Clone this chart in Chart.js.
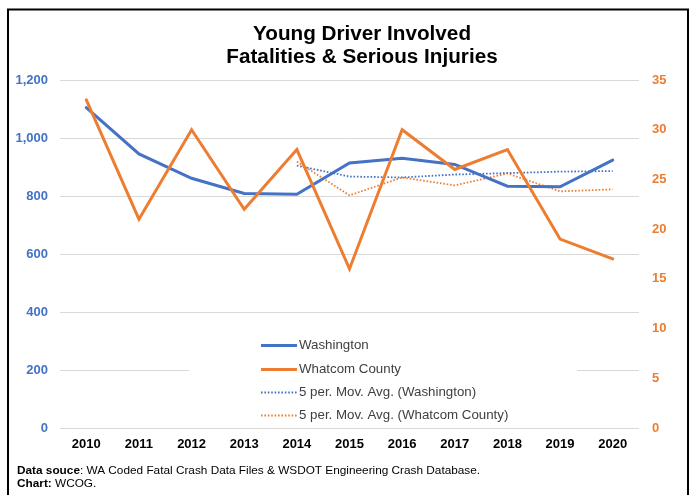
<!DOCTYPE html>
<html>
<head>
<meta charset="utf-8">
<title>Young Driver Involved Fatalities & Serious Injuries</title>
<script src="https://cdn.jsdelivr.net/npm/chart.js@4/dist/chart.umd.min.js"></script>
<style>
  html, body { margin: 0; padding: 0; background: #fff; }
  canvas { display: block; }
</style>
</head>
<body>
<canvas id="chart" width="692" height="495"></canvas>
<script>
// Values
const years = ['2010','2011','2012','2013','2014','2015','2016','2017','2018','2019','2020'];
const washington = [1105, 945, 861, 809, 806, 914, 930, 909, 834, 832, 924];
const whatcom = [33, 21, 30, 22, 28, 16, 30, 26, 28, 19, 17];
// 5 period moving average trendlines, as drawn in the picture
const washingtonAvg = [null, null, null, null, 905, 867, 864, 874, 879, 884, 886];
const whatcomAvg = [null, null, null, null, 26.8, 23.4, 25.2, 24.4, 25.6, 23.8, 24.0];

const titleLines = ['Young Driver Involved', 'Fatalities & Serious Injuries'];
const legendLabels = ['Washington', 'Whatcom County', '5 per. Mov. Avg. (Washington)', '5 per. Mov. Avg. (Whatcom County)'];

const BLUE = '#4472C4';
const ORANGE = '#ED7D31';
const FONT = '"Liberation Sans", Arial, sans-serif';
const DOTS = [1.6, 1.8];

// frame, title, legend box and source note
const extras = {
  id: 'extras',
  afterDraw(chart) {
    const ctx = chart.ctx;
    ctx.save();

    ctx.strokeStyle = '#000';
    ctx.lineWidth = 2;
    ctx.strokeRect(8, 9.5, 680, 600);

    ctx.fillStyle = '#000';
    ctx.font = 'bold 20.7px ' + FONT;
    ctx.textAlign = 'center';
    ctx.textBaseline = 'alphabetic';
    ctx.fillText(titleLines[0], 362, 40);
    ctx.fillText(titleLines[1], 362, 63);

    // legend sits inside the plot, white box hides the gridlines
    ctx.fillStyle = '#fff';
    ctx.fillRect(189, 330, 388, 95);
    const rows = [345.5, 369.5, 392.5, 415.5];
    const styles = [
      { color: BLUE, width: 3, dash: [] },
      { color: ORANGE, width: 3, dash: [] },
      { color: BLUE, width: 1.8, dash: DOTS },
      { color: ORANGE, width: 1.8, dash: DOTS }
    ];
    ctx.textAlign = 'left';
    ctx.textBaseline = 'middle';
    ctx.font = '13.3px ' + FONT;
    legendLabels.forEach((label, i) => {
      const s = styles[i];
      ctx.beginPath();
      ctx.strokeStyle = s.color;
      ctx.lineWidth = s.width;
      ctx.setLineDash(s.dash);
      ctx.moveTo(261, rows[i]);
      ctx.lineTo(297, rows[i]);
      ctx.stroke();
      ctx.setLineDash([]);
      ctx.fillStyle = '#404040';
      ctx.fillText(label, 299, rows[i]);
    });

    // source note
    ctx.fillStyle = '#000';
    ctx.textBaseline = 'alphabetic';
    ctx.font = 'bold 11.8px ' + FONT;
    ctx.fillText('Data souce', 17, 474);
    let w = ctx.measureText('Data souce').width;
    ctx.font = '11.8px ' + FONT;
    ctx.fillText(': WA Coded Fatal Crash Data Files & WSDOT Engineering Crash Database.', 17 + w, 474);
    ctx.font = 'bold 11.8px ' + FONT;
    ctx.fillText('Chart:', 17, 487);
    w = ctx.measureText('Chart: ').width;
    ctx.font = '11.8px ' + FONT;
    ctx.fillText('WCOG.', 17 + w, 487);

    ctx.restore();
  }
};

new Chart(document.getElementById('chart'), {
  type: 'line',
  data: {
    labels: years,
    datasets: [
      { label: legendLabels[0], data: washington, yAxisID: 'y', borderColor: BLUE, borderWidth: 3, borderCapStyle: 'round', order: 1 },
      { label: legendLabels[1], data: whatcom, yAxisID: 'y1', borderColor: ORANGE, borderWidth: 3, borderCapStyle: 'round', order: 0 },
      { label: legendLabels[2], data: washingtonAvg, yAxisID: 'y', borderColor: BLUE, borderWidth: 1.8, borderDash: DOTS, order: 2 },
      { label: legendLabels[3], data: whatcomAvg, yAxisID: 'y1', borderColor: ORANGE, borderWidth: 1.8, borderDash: DOTS, order: 3 }
    ]
  },
  options: {
    responsive: false,
    animation: false,
    elements: { point: { radius: 0 }, line: { tension: 0 } },
    layout: { padding: { top: 80, left: 0, right: 0, bottom: 37 } },
    plugins: { legend: { display: false }, title: { display: false }, tooltip: { enabled: false } },
    scales: {
      x: {
        offset: true,
        grid: { display: false, drawTicks: false },
        border: { display: false },
        ticks: { color: '#000', padding: 9, font: { family: FONT, size: 13, weight: 'bold' } },
        afterFit(scale) { scale.height = 30; }
      },
      y: {
        position: 'left',
        min: 0, max: 1200,
        grid: { color: '#D9D9D9', drawTicks: false },
        border: { display: false },
        ticks: { stepSize: 200, color: BLUE, padding: 12, font: { family: FONT, size: 13, weight: 'bold' } },
        afterFit(scale) { scale.width = 60; }
      },
      y1: {
        position: 'right',
        min: 0, max: 35,
        grid: { display: false, drawTicks: false },
        border: { display: false },
        ticks: { stepSize: 5, color: ORANGE, padding: 13, font: { family: FONT, size: 13, weight: 'bold' } },
        afterFit(scale) { scale.width = 53; }
      }
    }
  },
  plugins: [extras]
});
</script>
</body>
</html>
